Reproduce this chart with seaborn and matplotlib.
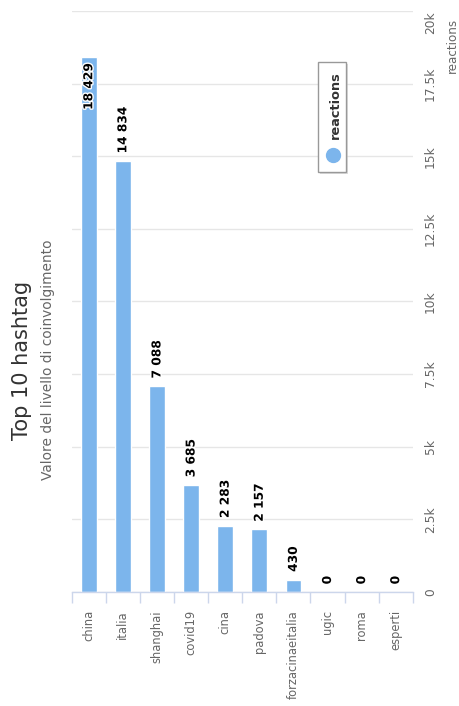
import numpy as np
import pandas as pd
import matplotlib
matplotlib.use("Agg")
import matplotlib.pyplot as plt
import matplotlib.patheffects as pe
from matplotlib.patches import FancyBboxPatch
from matplotlib.lines import Line2D
import seaborn as sns

categories = ["china", "italia", "shanghai", "covid19", "cina", "padova",
              "forzacinaeitalia", "ugic", "roma", "esperti"]
reactions = [18429, 14834, 7088, 3685, 2283, 2157, 430, 0, 0, 0]
value_ticks = [0, 2500, 5000, 7500, 10000, 12500, 15000, 17500, 20000]
value_tick_labels = ["0", "2.5k", "5k", "7.5k", "10k", "12.5k", "15k", "17.5k", "20k"]
series_name = "reactions"
title = "Top 10 hashtag"
subtitle = "Valore del livello di coinvolgimento"

sns.set_theme(style="white")
plt.rcParams['font.family'] = ['DejaVu Sans']

W, H = 459, 706
fig = plt.figure(figsize=(W / 100, H / 100), dpi=100)

def fx(x):
    return x / W

def fy(y):
    return 1 - y / H

left, right, top, bottom = 71.7, 412.7, 11, 592
ax = fig.add_axes([fx(left), fy(bottom), (right - left) / W, (bottom - top) / H])

df = pd.DataFrame({"tag": categories, "reactions": reactions})
sns.barplot(data=df, x="tag", y="reactions", order=categories, color="#7cb5ec",
            saturation=1, width=0.46, ax=ax)
ax.set_xlim(-0.5, 9.5)
ax.set_ylim(0, 20000)

for s in ["top", "left", "right"]:
    ax.spines[s].set_visible(False)
ax.spines["bottom"].set_color("#ccd6eb")
ax.spines["bottom"].set_linewidth(1)

ax.set_axisbelow(True)
ax.yaxis.grid(True, color="#e6e6e6", linewidth=1)
ax.xaxis.grid(False)

ax.yaxis.tick_right()
ax.set_yticks(value_ticks)
ax.set_yticklabels(value_tick_labels)
ax.tick_params(axis="y", length=0, pad=8, labelrotation=90, labelsize=8.8,
               labelcolor="#666666")
for t in ax.get_yticklabels():
    t.set_va("center")
ax.get_yticklabels()[-1].set_va("top")

ax.set_xticks(range(len(categories)))
ax.set_xticklabels(categories)
ax.set_xticks(np.arange(-0.5, len(categories), 1), minor=True)
ax.tick_params(axis="x", which="major", length=0, pad=13, labelrotation=90,
               labelsize=8.3, labelcolor="#666666")
ax.tick_params(axis="x", which="minor", length=7.9, width=1, color="#ccd6eb",
               bottom=True)
for t in ax.get_xticklabels():
    t.set_ha("center")
    t.set_va("top")
ax.set_xlabel("")
ax.set_ylabel("")

# data labels
label_h = 48 / (bottom - top) * 20000
for i, v in enumerate(reactions):
    txt = f"{v:,}".replace(",", " ")
    if v + 8 / (bottom - top) * 20000 + label_h > 20000:
        ax.annotate(txt, (i, v), xytext=(0, -4.5), textcoords="offset points",
                    rotation=90, ha="center", va="top", fontsize=8.8,
                    fontweight="bold", color="black",
                    path_effects=[pe.withStroke(linewidth=2, foreground="white")])
    else:
        ax.annotate(txt, (i, v), xytext=(0, 5.5), textcoords="offset points",
                    rotation=90, ha="center", va="bottom", fontsize=8.8,
                    fontweight="bold", color="black",
                    path_effects=[pe.withStroke(linewidth=2, foreground="white")])

# axis title
fig.text(fx(452), fy(18), series_name, rotation=90, ha="center", va="top",
         fontsize=8.6, color="#666666")

# titles
fig.text(fx(22.5), fy(360), title, rotation=90, ha="center", va="center",
         fontsize=15, color="#333333")
fig.text(fx(48.5), fy(360), subtitle, rotation=90, ha="center", va="center",
         fontsize=9.9, color="#666666")

# legend box
shadow = FancyBboxPatch((fx(320), fy(174)), fx(28), 110 / H,
                        boxstyle="square,pad=0", transform=fig.transFigure,
                        facecolor="#bbbbbb", edgecolor="none", alpha=0.5)
fig.add_artist(shadow)
box = FancyBboxPatch((fx(318), fy(172)), fx(28), 110 / H,
                     boxstyle="square,pad=0", transform=fig.transFigure,
                     facecolor="white", edgecolor="#999999", linewidth=1)
fig.add_artist(box)
fig.add_artist(Line2D([fx(333)], [fy(155)], marker="o", markersize=10,
                      color="#7cb5ec", transform=fig.transFigure,
                      linestyle="none"))
fig.text(fx(335), fy(139), series_name, rotation=90, ha="center", va="bottom",
         fontsize=9.3, fontweight="bold", color="#333333")

fig.savefig("out.png", dpi=100)
